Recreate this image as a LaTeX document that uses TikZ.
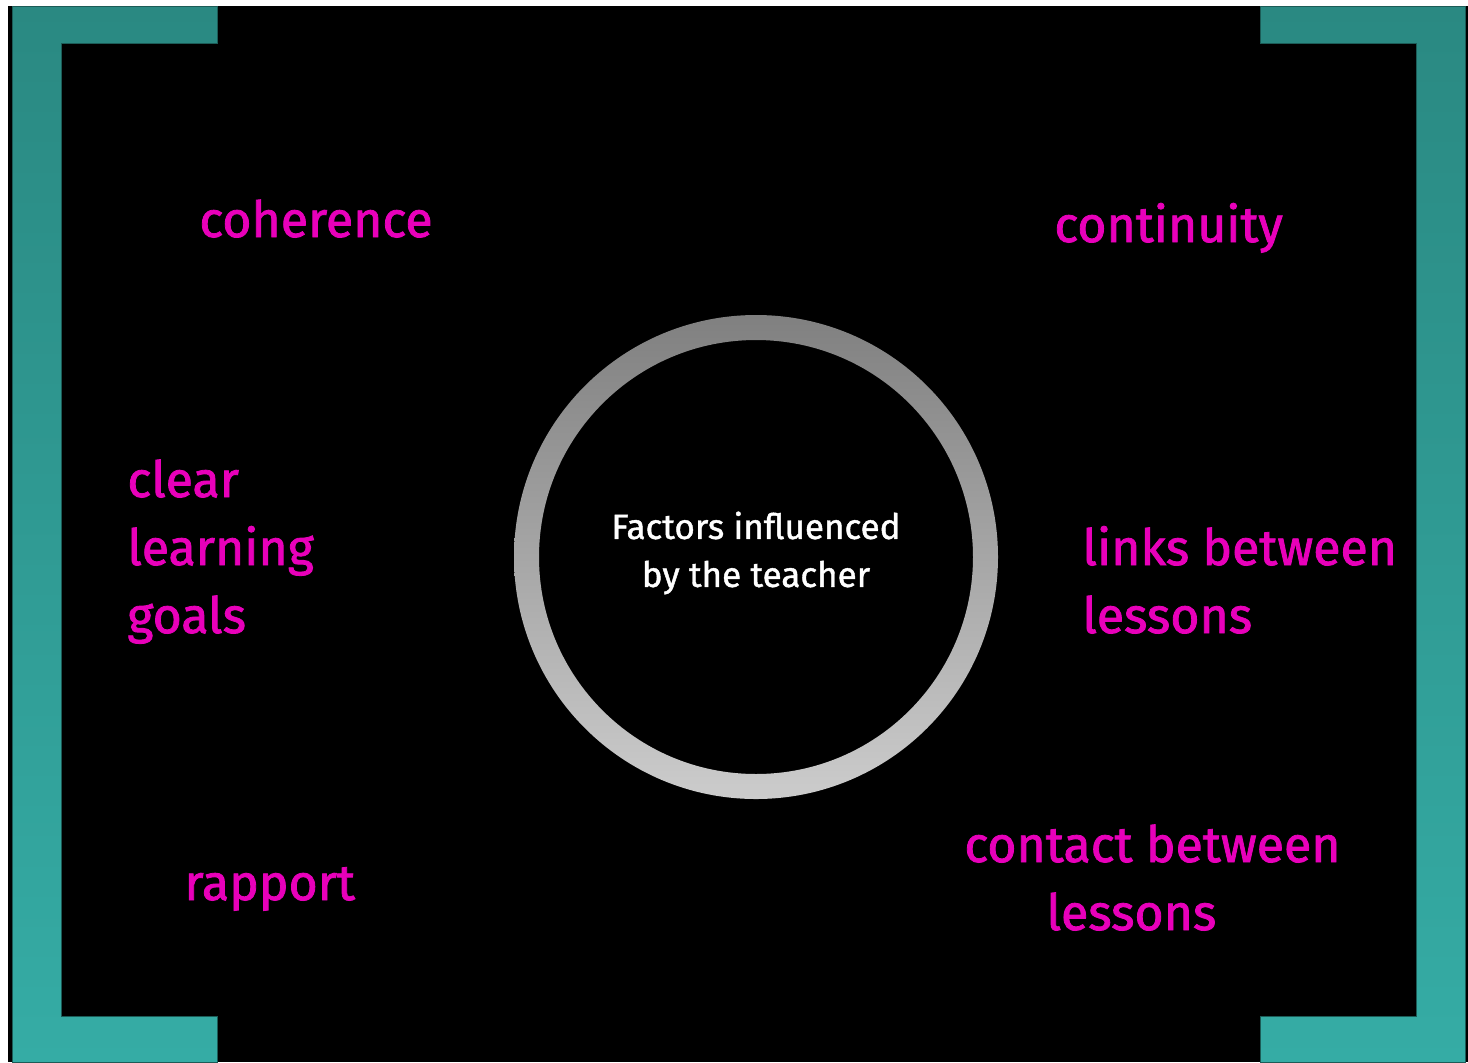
\documentclass[tikz,border=0pt]{standalone}
\usepackage{fontspec}
\setmainfont{Fira Sans}
\newfontfamily\factorfont{Fira Sans}[FakeBold=1.6]
\newfontfamily\corefont{Fira Sans}[FakeBold=1.2]
\usetikzlibrary{positioning}

\definecolor{framedark}{RGB}{42,137,130}
\definecolor{framelight}{RGB}{53,172,165}
\definecolor{frameedge}{RGB}{28,92,87}
\definecolor{factorpink}{RGB}{232,0,186}
\definecolor{ringtop}{RGB}{128,128,128}
\definecolor{ringbottom}{RGB}{204,204,204}

\tikzset{
  factor/.style={text=factorpink,font=\factorfont\fontsize{25}{34}\selectfont,inner sep=0pt,anchor=base west},
  core/.style={text=white,font=\corefont\fontsize{17.5}{24}\selectfont,inner sep=0pt,align=center}
}

\begin{document}
\begin{tikzpicture}[x=0.5pt,y=-0.5pt]
  \useasboundingbox (0,0) rectangle (1468,1062);
  \fill[white] (0,0) rectangle (1468,1062);
  \fill[black] (8,6) rectangle (1468,1062);
  % teal corner frame
  \shade[top color=framedark,bottom color=framelight,draw=frameedge,line width=0.5pt]
    (12,6) -- (217,6) -- (217,43) -- (61,43) -- (61,1016) -- (217,1016) -- (217,1062) -- (12,1062) -- cycle
    (1465,6) -- (1260,6) -- (1260,43) -- (1416,43) -- (1416,1016) -- (1260,1016) -- (1260,1062) -- (1465,1062) -- cycle;
  % centre ring
  \coordinate (hub) at (756,557);
  \shade[top color=ringtop,bottom color=ringbottom,even odd rule]
    (hub) circle (242) (hub) circle (217);
  \node[core] (teacher) [above=2pt of hub,anchor=center] {Factors influenced\\by the teacher};

  % factors round the ring (base = last line)
  \node[factor] (coherence)  at (199,237)  {coherence};
  \node[factor] (continuity) at (1054,242) {continuity};
  \node[factor,align=left]   (goals)   at (127,633)  {clear\\learning\\goals};
  \node[factor,align=left]   (links)   at (1082,633) {links between\\lessons};
  \node[factor,align=center] (contact) at (964,930)  {contact between\\lessons\hspace*{21pt}};
  \node[factor] (rapport)    at (184,900)  {rapport};
\end{tikzpicture}
\end{document}
